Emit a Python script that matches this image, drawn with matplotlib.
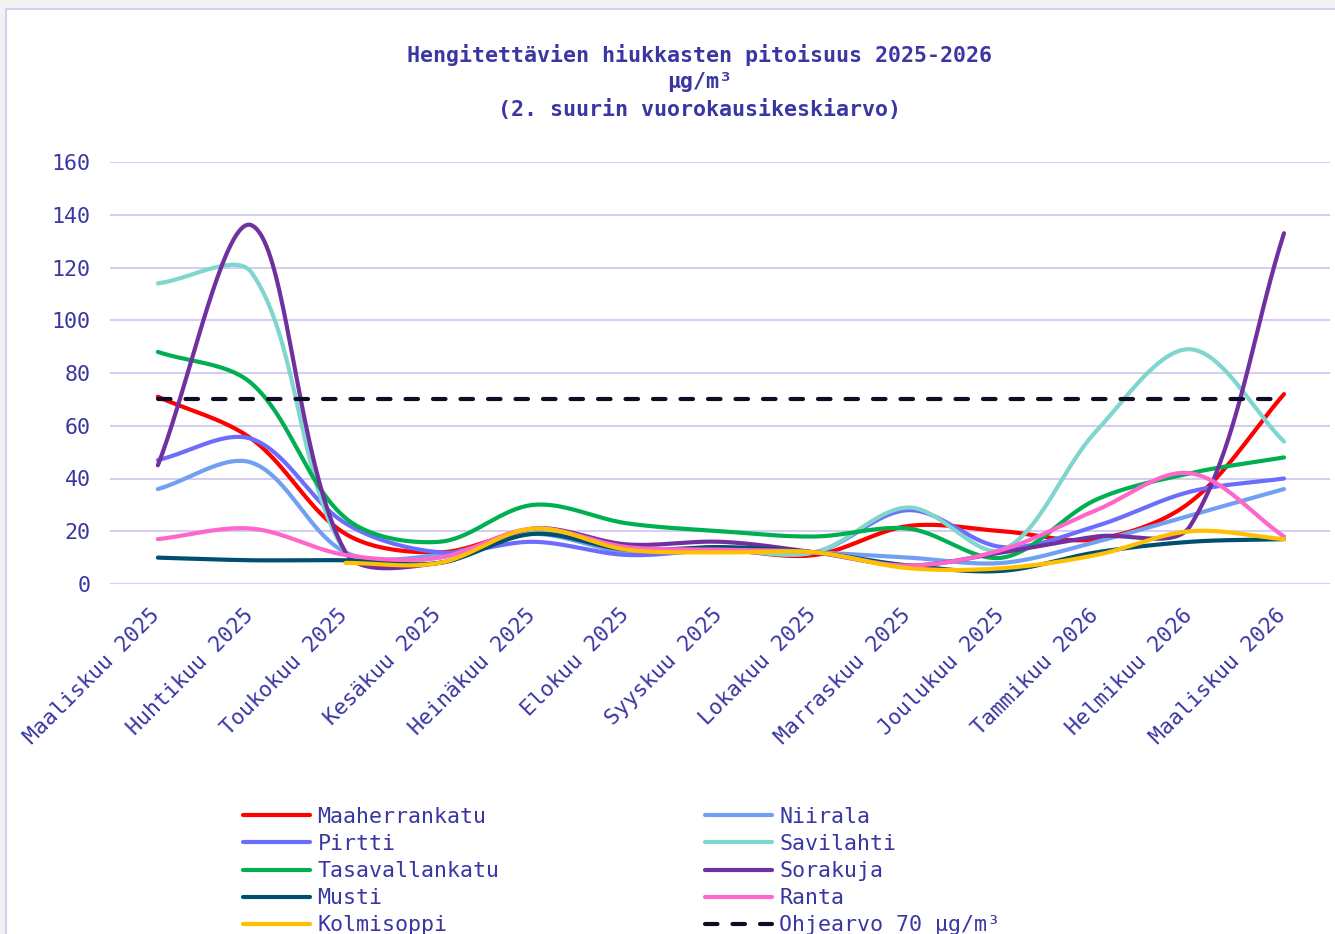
import numpy as np
import matplotlib
matplotlib.use('Agg')
import matplotlib.pyplot as plt
from matplotlib.patches import Rectangle
from matplotlib.transforms import ScaledTranslation

months = ['Maaliskuu 2025', 'Huhtikuu 2025', 'Toukokuu 2025', 'Kesäkuu 2025',
          'Heinäkuu 2025', 'Elokuu 2025', 'Syyskuu 2025', 'Lokakuu 2025',
          'Marraskuu 2025', 'Joulukuu 2025', 'Tammikuu 2026', 'Helmikuu 2026',
          'Maaliskuu 2026']

maaherrankatu = [71, 55, 19, 12, 20, 13, 13, 11, 22, 20, 17, 31, 72]
niirala = [36, 46, 12, 11, 19, 12, 13, 12, 10, 8, 16, 26, 36]
pirtti = [47, 55, 23, 12, 16, 11, 13, 12, 28, 14, 22, 35, 40]
savilahti = [114, 118, 12, 10, 20, 13, 13, 12, 29, 13, 58, 89, 54]
tasavallankatu = [88, 76, 25, 16, 30, 23, 20, 18, 21, 10, 32, 42, 48]
sorakuja = [45, 136, 12, 8, 21, 15, 16, 12, 7, 12, 18, 22, 133]
musti = [10, 9, 9, 8, 19, 13, 14, 12, 7, 5, 12, 16, 17]
ranta = [17, 21, 11, 10, 21, 14, 13, 12, 7, 13, 28, 42, 18]
kolmisoppi = [None, None, 8, 8, 21, 13, 12, 12, 6, 6, 11, 20, 17]
ohjearvo = [70, 70, 70, 70, 70, 70, 70, 70, 70, 70, 70, 70, 70]

series = [
    ('Maaherrankatu', maaherrankatu, '#ff0000'),
    ('Niirala', niirala, '#71a0f2'),
    ('Pirtti', pirtti, '#6d6dfc'),
    ('Savilahti', savilahti, '#7fd6cd'),
    ('Tasavallankatu', tasavallankatu, '#00b050'),
    ('Sorakuja', sorakuja, '#7030a0'),
    ('Musti', musti, '#004f71'),
    ('Ranta', ranta, '#ff66cc'),
    ('Kolmisoppi', kolmisoppi, '#ffc000'),
]

text_color = '#3a37a3'
grid_color = '#d4cff0'
fs = 15.6
plt.rcParams['font.family'] = ['DejaVu Sans Mono', 'DejaVu Sans']

# pikseleitä per x-askel ja per y-yksikkö, pehmennystä varten
sx_px, sy_px = 93.8, 2.6375


def smooth(xs, ys, n=40):
    # excel-tyylinen pehmennys: bezier, ohjauspisteet skaalattu janojen pituuksilla
    pts = np.column_stack([np.array(xs, float) * sx_px, np.array(ys, float) * sy_px])
    p = np.vstack([pts[0], pts, pts[-1]])
    d = np.r_[np.hypot(*np.diff(p, axis=0).T)]
    t = np.linspace(0, 1, n)[:, None]
    out = []
    for i in range(1, len(p) - 2):
        p0, p1, p2, p3 = p[i - 1], p[i], p[i + 1], p[i + 2]
        d01, d12, d23 = d[i - 1], d[i], d[i + 1]
        f1 = d12 / (d01 + d12) if d01 + d12 > 0 else 0.5
        f2 = d12 / (d12 + d23) if d12 + d23 > 0 else 0.5
        c1 = p1 + (p2 - p0) / 3 * f1
        c2 = p2 - (p3 - p1) / 3 * f2
        out.append((1 - t)**3 * p1 + 3 * (1 - t)**2 * t * c1 + 3 * (1 - t) * t**2 * c2 + t**3 * p2)
    out = np.vstack(out)
    return out[:, 0] / sx_px, out[:, 1] / sy_px


fig = plt.figure(figsize=(13.35, 9.34), dpi=100, facecolor='#f2f2f2')
fig.patches.append(Rectangle((6 / 1335, -0.1), 1.1, 0.1 + 925 / 934, transform=fig.transFigure,
                             facecolor='white', edgecolor=grid_color, linewidth=1.5, zorder=-5))
ax = fig.add_axes([110 / 1335, 1 - 584 / 934, 1220 / 1335, 422 / 934])
ax.set_facecolor('none')

handles = {}
for name, vals, col in series:
    xs = [i for i, v in enumerate(vals) if v is not None]
    ys = [v for v in vals if v is not None]
    px, py = smooth(xs, ys)
    handles[name], = ax.plot(px, py, color=col, lw=3, solid_capstyle='round', label=name)

handles['Ohjearvo'], = ax.plot(range(len(ohjearvo)), ohjearvo, color='#0d0d26', lw=3,
                               dashes=(3, 3.6), dash_capstyle='round', label='Ohjearvo 70 µg/m³')

ax.set_xlim(-0.51, 12.49)
ax.set_ylim(0, 160)
ax.set_yticks(np.arange(0, 161, 20))
ax.set_xticks(range(len(months)))
ax.set_xticklabels(months, rotation=45, ha='right', va='top', rotation_mode='anchor')
ax.grid(axis='y', color=grid_color, lw=1.5)
ax.set_axisbelow(True)
for s in ax.spines.values():
    s.set_visible(False)
ax.tick_params(length=0, colors=text_color, labelsize=fs)
ax.tick_params(axis='y', pad=14)
ax.tick_params(axis='x', pad=15)
for lab in ax.get_xticklabels():
    lab.set_transform(lab.get_transform() + ScaledTranslation(-6 / 72, 0, fig.dpi_scale_trans))

fig.text(700 / 1335, 1 - 82 / 934,
         'Hengitettävien hiukkasten pitoisuus 2025-2026\nµg/m³\n(2. suurin vuorokausikeskiarvo)',
         ha='center', va='center', fontsize=fs, fontweight='bold', color=text_color, linespacing=1.42)

order = ['Maaherrankatu', 'Pirtti', 'Tasavallankatu', 'Musti', 'Kolmisoppi',
         'Niirala', 'Savilahti', 'Sorakuja', 'Ranta', 'Ohjearvo']
leg = fig.legend([handles[k] for k in order], [handles[k].get_label() for k in order],
                 loc='upper left', bbox_to_anchor=(232 / 1335, 1 - 796 / 934), ncol=2,
                 frameon=False, fontsize=fs, borderpad=0, handlelength=3.1, handletextpad=0.35,
                 columnspacing=9.46, labelspacing=0.33, labelcolor=text_color)

plt.savefig('out.png', dpi=100, facecolor=fig.get_facecolor())
